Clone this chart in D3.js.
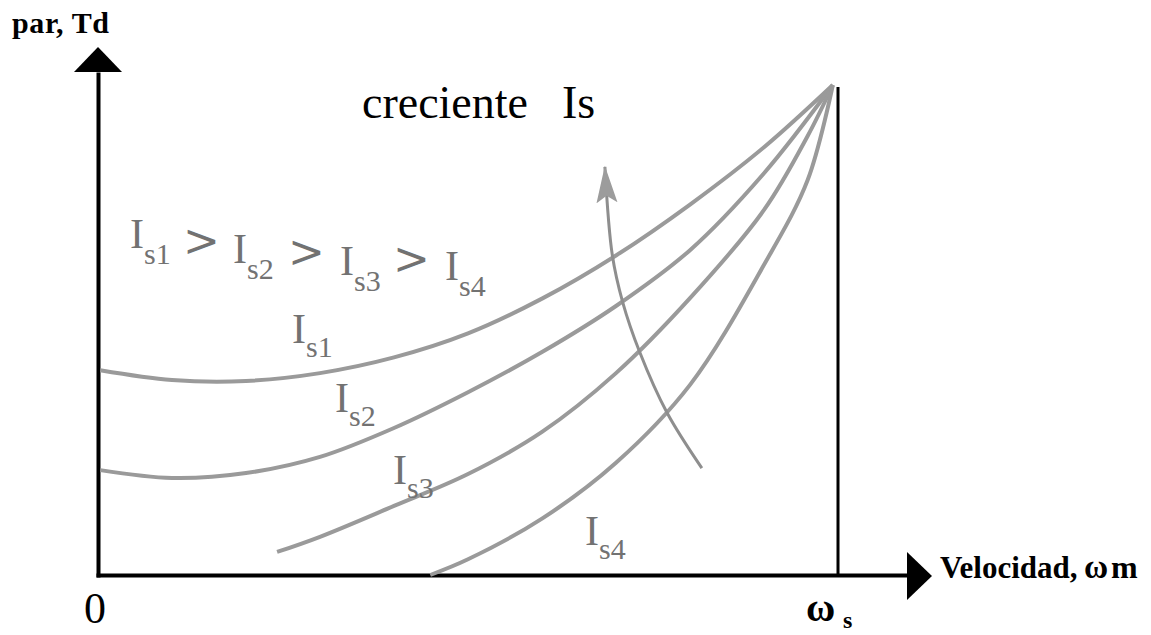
<!DOCTYPE html>
<html>
<head>
<meta charset="utf-8">
<script src="https://cdn.jsdelivr.net/npm/d3@7/dist/d3.min.js"></script>
<style>
body { margin: 0; background: #fff; }
</style>
</head>
<body>
<div id="chart"></div>
<script>
// velocidad en % de ωs, par en % del par en ωs
var is1Speed = [0.3, 10, 20, 30, 40, 50, 60, 70, 80, 90, 99.3];
var is1Torque = [41.8, 39.8, 39.6, 41.2, 44.4, 49.3, 56.4, 65.2, 75.6, 87.3, 100];
var is2Speed = [0.3, 10, 20, 30, 40, 50, 60, 70, 80, 90, 99.3];
var is2Torque = [21.4, 19.8, 20.8, 24.1, 30.0, 37.3, 45.5, 54.9, 66.3, 82.0, 100];
var is3Speed = [24.2, 30, 40, 50, 60, 70, 80, 90, 95.9, 99.3];
var is3Torque = [4.7, 7.8, 14.1, 20.6, 29.2, 41.2, 56.5, 74.5, 89.6, 100];
var is4Speed = [44.9, 50, 60, 70, 80, 90, 95.9, 99.3];
var is4Torque = [0, 3.2, 11.5, 22.9, 38.8, 63.3, 80.6, 100];
// flecha "creciente Is"
var arrowSpeed = [81.6, 76.9, 73.2, 70.9, 69.5, 68.5];
var arrowTorque = [21.8, 33.1, 45.5, 55.7, 65.3, 83.3];

var subs = ['s1', 's2', 's3', 's4'];

var width = 1151, height = 635;
var grey = '#9a9a9a';
var textGrey = '#727272';
var serif = '"Liberation Serif", "Times New Roman", serif';

var svg = d3.select('#chart')
    .append('svg')
    .attr('width', width)
    .attr('height', height);

var x = d3.scaleLinear().domain([0, 100]).range([98, 838]);
var y = d3.scaleLinear().domain([0, 100]).range([575, 85]);

function zip(a, b) {
    return a.map(function (d, i) { return [d, b[i]]; });
}

var series = [
    zip(is1Speed, is1Torque),
    zip(is2Speed, is2Torque),
    zip(is3Speed, is3Torque),
    zip(is4Speed, is4Torque)
];

// ejes (sin marcas)
var xAxisScale = x.copy().domain([0, x.invert(907)]).range([96, 907]);
var yAxisScale = y.copy().domain([0, y.invert(72)]).range([577, 72]);

svg.append('g')
    .attr('transform', 'translate(0,' + y(0) + ')')
    .call(d3.axisBottom(xAxisScale).tickValues([]).tickSizeOuter(0));
svg.append('g')
    .attr('transform', 'translate(' + x(0) + ',0)')
    .call(d3.axisLeft(yAxisScale).tickValues([]).tickSizeOuter(0));
svg.selectAll('.domain').attr('stroke', '#000').attr('stroke-width', 4);

// puntas de flecha de los ejes
svg.append('path')
    .attr('d', 'M' + x(0) + ',47 L' + (x(0) - 24) + ',72 L' + (x(0) + 24) + ',72 Z')
    .attr('fill', '#000');
svg.append('path')
    .attr('d', 'M932,' + (y(0) + 1) + ' L907,' + (y(0) - 23) + ' L907,' + (y(0) + 25) + ' Z')
    .attr('fill', '#000');

// linea vertical en ωs
svg.append('line')
    .attr('x1', x(100)).attr('x2', x(100))
    .attr('y1', y(0)).attr('y2', y(100) + 2)
    .attr('stroke', '#000')
    .attr('stroke-width', 3);

// curvas
var line = d3.line()
    .curve(d3.curveCatmullRom.alpha(0.5))
    .x(function (d) { return x(d[0]); })
    .y(function (d) { return y(d[1]); });

svg.selectAll('.curve')
    .data(series)
    .enter()
    .append('path')
    .attr('class', 'curve')
    .attr('d', line)
    .attr('fill', 'none')
    .attr('stroke', grey)
    .attr('stroke-width', 4);

// flecha creciente
svg.append('defs').append('marker')
    .attr('id', 'head')
    .attr('markerUnits', 'userSpaceOnUse')
    .attr('viewBox', '0 -11 38 22')
    .attr('markerWidth', 38)
    .attr('markerHeight', 22)
    .attr('refX', 36)
    .attr('refY', 0)
    .attr('orient', 'auto')
    .append('path')
    .attr('d', 'M0,-10.5 L37,0 L0,10.5 L7,0 Z')
    .attr('fill', '#9c9c9c');

svg.append('path')
    .attr('d', line(zip(arrowSpeed, arrowTorque)))
    .attr('fill', 'none')
    .attr('stroke', '#8e8e8e')
    .attr('stroke-width', 3)
    .attr('marker-end', 'url(#head)');

// etiquetas de las curvas
var labelPos = [[292, 343], [335, 412], [393, 484], [585, 545]];
labelPos.forEach(function (p, i) {
    var t = svg.append('text')
        .attr('x', p[0])
        .attr('y', p[1])
        .style('font-family', serif)
        .style('font-size', '42px')
        .attr('fill', textGrey);
    t.append('tspan').text('I');
    t.append('tspan')
        .attr('dy', 14)
        .style('font-size', '30px')
        .text(subs[i]);
});

// Is1 > Is2 > Is3 > Is4
var ineqI = [[130, 248], [233, 263], [340, 275], [445, 280]];
var ineqGt = [[183, 256], [288, 267], [393, 274]];
ineqI.forEach(function (p, i) {
    var t = svg.append('text')
        .attr('x', p[0])
        .attr('y', p[1])
        .style('font-family', serif)
        .style('font-size', '42px')
        .attr('fill', textGrey);
    t.append('tspan').text('I');
    t.append('tspan')
        .attr('dy', 16)
        .style('font-size', '30px')
        .text(subs[i]);
});
ineqGt.forEach(function (p) {
    svg.append('text')
        .attr('x', p[0])
        .attr('y', p[1])
        .style('font-family', '"DejaVu Serif", serif')
        .style('font-size', '44px')
        .attr('fill', textGrey)
        .text('>');
});

// textos negros
var ct = svg.append('text')
    .attr('x', 362)
    .attr('y', 118)
    .style('font-family', serif)
    .style('font-size', '46px')
    .attr('fill', '#000');
ct.append('tspan').text('creciente');
ct.append('tspan').attr('x', 562).text('Is');

svg.append('text')
    .attr('x', 12)
    .attr('y', 33)
    .style('font-family', serif)
    .style('font-weight', 'bold')
    .style('font-size', '30px')
    .style('letter-spacing', '0.6px')
    .text('par, Td');

var vt = svg.append('text')
    .attr('x', 940)
    .attr('y', 578)
    .style('font-family', serif)
    .style('font-weight', 'bold')
    .style('font-size', '31px');
vt.append('tspan').text('Velocidad,');
vt.append('tspan').attr('x', 1084).style('font-size', '33px').text('ω');
vt.append('tspan').attr('x', 1111).style('font-size', '32px').text('m');

svg.append('text')
    .attr('x', 84)
    .attr('y', 623)
    .style('font-family', serif)
    .style('font-size', '44px')
    .text('0');

var wt = svg.append('text')
    .attr('x', 806)
    .attr('y', 621)
    .style('font-family', serif)
    .style('font-weight', 'bold')
    .style('font-size', '40px');
wt.append('tspan').text('ω');
wt.append('tspan')
    .attr('x', 843)
    .attr('y', 628)
    .style('font-size', '24px')
    .text('s');
</script>
</body>
</html>
